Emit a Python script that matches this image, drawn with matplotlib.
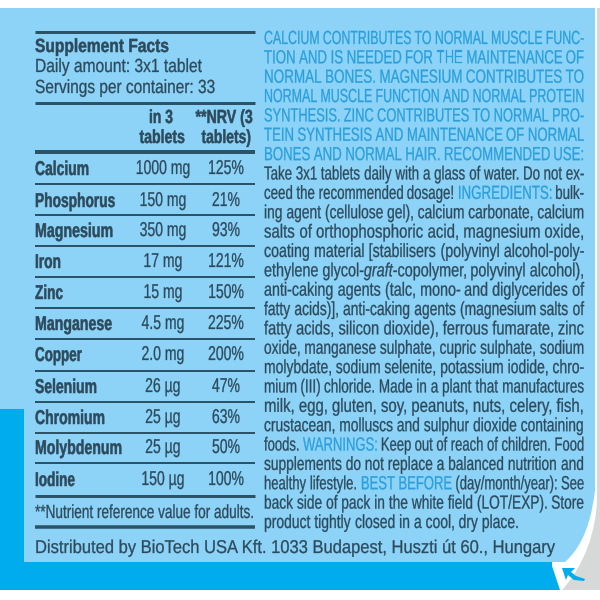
import re
import matplotlib
matplotlib.use("Agg")
import matplotlib.pyplot as plt
from matplotlib.patches import Polygon, Rectangle, PathPatch
from matplotlib.path import Path
from matplotlib.transforms import Affine2D
from matplotlib.patheffects import AbstractPathEffect
from matplotlib.font_manager import FontProperties, findfont

nutrients = ["Calcium", "Phosphorus", "Magnesium", "Iron", "Zinc", "Manganese",
             "Copper", "Selenium", "Chromium", "Molybdenum", "Iodine"]
amounts = ["1000 mg", "150 mg", "350 mg", "17 mg", "15 mg", "4.5 mg",
           "2.0 mg", "26 µg", "25 µg", "25 µg", "150 µg"]
nrv = ["125%", "21%", "93%", "121%", "150%", "225%", "200%", "47%", "63%", "50%", "100%"]

body_lines = [
    "{b}CALCIUM CONTRIBUTES TO NORMAL MUSCLE FUNC-",
    "{b}TION AND IS NEEDED FOR THE MAINTENANCE OF",
    "{b}NORMAL BONES. MAGNESIUM CONTRIBUTES TO",
    "{b}NORMAL MUSCLE FUNCTION AND NORMAL PROTEIN",
    "{b}SYNTHESIS. ZINC CONTRIBUTES TO NORMAL PRO-",
    "{b}TEIN SYNTHESIS AND MAINTENANCE OF NORMAL",
    "{b}BONES AND NORMAL HAIR. RECOMMENDED USE:",
    "Take 3x1 tablets daily with a glass of water. Do not ex-",
    "ceed the recommended dosage! {b}INGREDIENTS:{d} bulk-",
    "ing agent (cellulose gel), calcium carbonate, calcium",
    "salts of orthophosphoric acid, magnesium oxide,",
    "coating material [stabilisers (polyvinyl alcohol-poly-",
    "ethylene glycol-{i}graft{d}-copolymer, polyvinyl alcohol),",
    "anti-caking agents (talc, mono- and diglycerides of",
    "fatty acids)], anti-caking agents (magnesium salts of",
    "fatty acids, silicon dioxide), ferrous fumarate, zinc",
    "oxide, manganese sulphate, cupric sulphate, sodium",
    "molybdate, sodium selenite, potassium iodide, chro-",
    "mium (III) chloride. Made in a plant that manufactures",
    "milk, egg, gluten, soy, peanuts, nuts, celery, fish,",
    "crustacean, molluscs and sulphur dioxide containing",
    "foods. {b}WARNINGS:{d} Keep out of reach of children. Food",
    "supplements do not replace a balanced nutrition and",
    "healthy lifestyle. {b}BEST BEFORE{d} (day/month/year): See",
    "back side of pack in the white field (LOT/EXP). Store",
    "product tightly closed in a cool, dry place.",
]

PANEL = "#8dd3f7"
CYAN = "#00aced"
GRAY = "#d6d9d8"
DARK = "#2c4a5c"
RULE = "#2b5266"
BLUE = "#2b9fdc"
REGULAR = "Liberation Sans"
try:
    findfont("Liberation Sans Narrow", fallback_to_default=False)
    NARROW, K, BODY_K = "Liberation Sans Narrow", 0.85, 0.80
except ValueError:
    NARROW, K, BODY_K = REGULAR, 0.70, 0.66
PX = 72 / 100


class Stretch(AbstractPathEffect):
    """Stretch glyphs about the text origin, with a thin outline."""
    def __init__(self, sx, sy, stroke):
        super().__init__()
        self.sx, self.sy, self.stroke = sx, sy, stroke

    def draw_path(self, renderer, gc, tpath, affine, rgbFace=None):
        gc0 = renderer.new_gc()
        gc0.copy_properties(gc)
        gc0.set_linewidth(self.stroke)
        gc0.set_foreground(rgbFace)
        renderer.draw_path(gc0, tpath, Affine2D().scale(self.sx, self.sy) + affine, rgbFace)
        gc0.restore()


fig = plt.figure(figsize=(6, 6), dpi=100, facecolor="white")
ax = fig.add_axes([0, 0, 1, 1])
ax.set_xlim(0, 600)
ax.set_ylim(600, 0)
ax.axis("off")
renderer = fig.canvas.get_renderer()


def natural_width(s, size, weight="normal", style="normal", family=None):
    prop = FontProperties(family=family or NARROW, size=size * PX, weight=weight, style=style)
    w, _, _ = renderer.get_text_width_height_descent(s, prop, False)
    return w


def put(x, y, s, size=19, weight="normal", style="normal", color=DARK, sx=1.0, ha="left",
        width=None, family=None, k=None):
    k = K if k is None else k
    fam = family or NARROW
    base = size * k
    w = natural_width(s, base, weight, style, fam)
    if width is not None:
        sx = width / w
    if ha == "center":
        x = x - w * sx / 2
    t = ax.text(x, y, s, family=fam, fontsize=base * PX, fontweight=weight, fontstyle=style,
                color=color, ha="left", va="baseline", zorder=5)
    t.set_path_effects([Stretch(sx, 1 / k, 0.35 if weight == "bold" else 0.2)])
    return t


# background shapes
ax.add_patch(Rectangle((0, 0), 600, 600, fc="white", ec="none", zorder=0))
gray = Path([(597, 8), (600, 8), (600, 590), (562, 590), (585, 565), (596, 530), (597, 500), (597, 8)],
            [Path.MOVETO, Path.LINETO, Path.LINETO, Path.LINETO, Path.CURVE4, Path.CURVE4, Path.CURVE4, Path.LINETO])
ax.add_patch(PathPatch(gray, fc=GRAY, ec="none", zorder=1))
ax.add_patch(Polygon([(0, 409), (24, 409), (24, 562), (552, 562), (552, 566), (560, 590), (0, 590)],
                     fc=CYAN, ec="none", zorder=1))
panel = Path([(0, 8), (595, 8), (595, 490), (590, 535), (575, 553), (565, 562), (24, 562), (24, 409), (0, 409), (0, 8)],
             [Path.MOVETO, Path.LINETO, Path.LINETO, Path.CURVE4, Path.CURVE4, Path.CURVE4,
              Path.LINETO, Path.LINETO, Path.LINETO, Path.CLOSEPOLY])
ax.add_patch(PathPatch(panel, fc=PANEL, ec="none", zorder=2))
ax.add_patch(Polygon([(562, 568), (575, 568), (571, 572), (576, 576), (585, 579), (584, 581),
                      (574, 580), (568, 575), (566, 580)], fc=CYAN, ec="none", zorder=3))

# table rules
rule_ys = [(32, 3), (103, 3), (152, 4), (184, 2), (215, 2), (246, 2), (277, 2), (308, 2), (339, 2),
           (371, 2), (402, 2), (433, 2), (463, 2), (496, 3), (527, 3.5)]
for y, lw in rule_ys:
    ax.plot([35, 255], [y, y], color=RULE, lw=lw * PX, solid_capstyle="butt", zorder=4)

# table heading
put(35, 52, "Supplement Facts", weight="bold", width=133)
put(35, 72, "Daily amount: 3x1 tablet", width=166)
put(35, 93, "Servings per container: 33", width=179)
put(161, 123, "in 3", weight="bold", ha="center", width=24)
put(162, 143, "tablets", weight="bold", ha="center", width=45)
put(224, 123, "**NRV (3", weight="bold", ha="center", width=57)
put(226, 143, "tablets)", weight="bold", ha="center", width=49)

# table rows
baselines = [175, 207, 237, 268, 299, 330, 361, 393, 424, 454, 486]
name_widths = [54, 80, 78, 26, 28, 77, 47, 62, 70, 87, 40]
for name, nw, amt, pct, y in zip(nutrients, name_widths, amounts, nrv, baselines):
    put(35, y, name, size=20, weight="bold", width=nw)
    put(163, y - 1, amt, ha="center", size=20)
    put(226, y - 1, pct, ha="center", size=20)

put(35, 518, "**Nutrient reference value for adults.", width=218)
put(35, 553, "Distributed by BioTech USA Kft. 1033 Budapest, Huszti út 60., Hungary",
    size=18.5, width=520, family=REGULAR, k=0.88)

# justified body text
LEFT, RIGHT, TOP, LEAD, BODY = 264, 584, 44, 19.36, 19
STYLES = {"d": (DARK, "normal"), "b": (BLUE, "normal"), "i": (DARK, "italic")}


def parse(line):
    runs, mode = [], "d"
    for part in re.split(r"(\{[dbi]\})", line):
        m = re.fullmatch(r"\{([dbi])\}", part)
        if m:
            mode = m.group(1)
        elif part:
            runs.append((part, mode))
    return runs


base = BODY * BODY_K
space = natural_width("a a", base) - natural_width("aa", base)
parsed = []
for line in body_lines:
    pieces, total = [], 0
    for text, mode in parse(line):
        for tok in re.findall(r" |[^ ]+", text):
            if tok == " ":
                pieces.append((None, mode, space))
                total += space
            else:
                w = natural_width(tok, base, style=STYLES[mode][1])
                pieces.append((tok, mode, w))
                total += w
    parsed.append((pieces, total))

scales = [(RIGHT - LEFT) / total for _, total in parsed[:-1]]
scales.append(sum(scales[7:]) / len(scales[7:]))
for i, ((pieces, _), sx) in enumerate(zip(parsed, scales)):
    x = LEFT
    y = TOP + i * LEAD
    for tok, mode, w in pieces:
        if tok is not None:
            color, style = STYLES[mode]
            put(x, y, tok, size=BODY, style=style, color=color, sx=sx, k=BODY_K)
        x += w * sx

fig.savefig("out.png", dpi=100)
